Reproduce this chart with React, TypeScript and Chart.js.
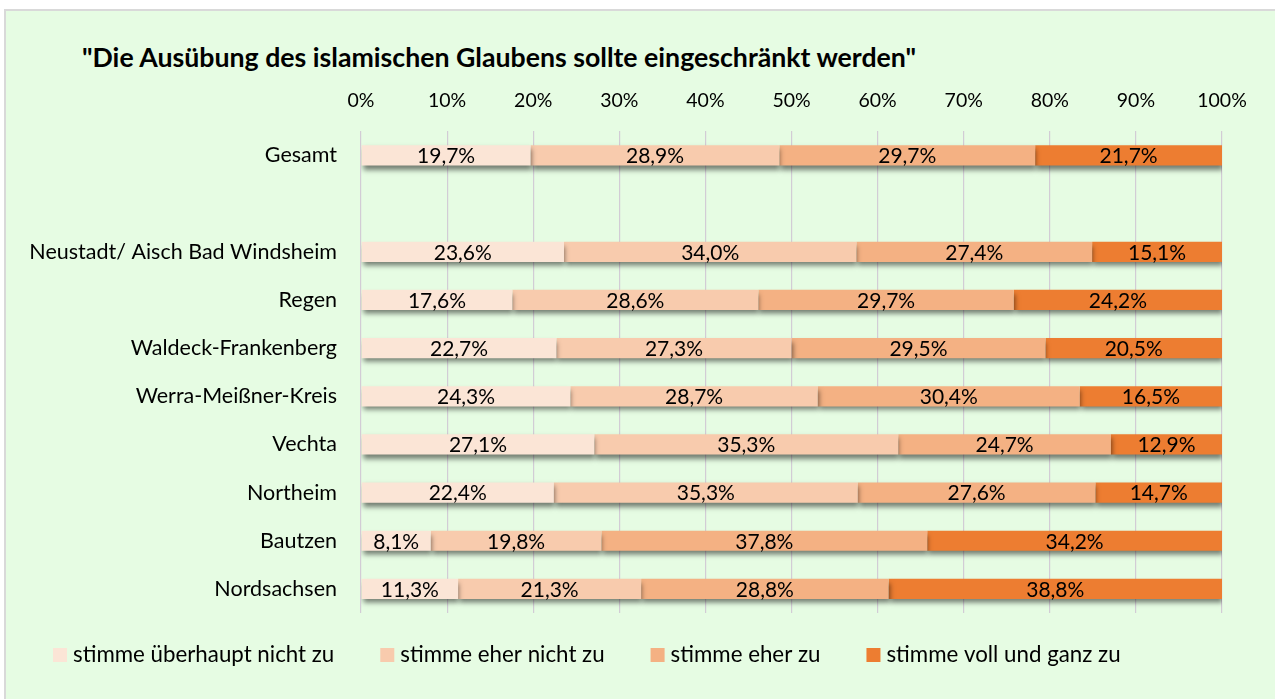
import React, { useEffect, useRef } from "react";
import { Chart, registerables } from "chart.js";

Chart.register(...registerables);

const TITLE = '"Die Ausübung des islamischen Glaubens sollte eingeschränkt werden"';

const categories = [
  "Gesamt",
  "",
  "Neustadt/ Aisch Bad Windsheim",
  "Regen",
  "Waldeck-Frankenberg",
  "Werra-Meißner-Kreis",
  "Vechta",
  "Northeim",
  "Bautzen",
  "Nordsachsen",
];

const seriesNames = [
  "stimme überhaupt nicht zu",
  "stimme eher nicht zu",
  "stimme eher zu",
  "stimme voll und ganz zu",
];

const seriesColors = ["#FBE5D6", "#F8CBAD", "#F4B183", "#ED7D31"];

const ueberhauptNicht = [19.7, null, 23.6, 17.6, 22.7, 24.3, 27.1, 22.4, 8.1, 11.3];
const eherNicht = [28.9, null, 34.0, 28.6, 27.3, 28.7, 35.3, 35.3, 19.8, 21.3];
const eherZu = [29.7, null, 27.4, 29.7, 29.5, 30.4, 24.7, 27.6, 37.8, 28.8];
const vollUndGanz = [21.7, null, 15.1, 24.2, 20.5, 16.5, 12.9, 14.7, 34.2, 38.8];

const xTicks = [0, 10, 20, 30, 40, 50, 60, 70, 80, 90, 100];

const FONT = "Lato";

const rawSeries = [ueberhauptNicht, eherNicht, eherZu, vollUndGanz];

const rowSums = categories.map((_, i) =>
  rawSeries.reduce((s, arr) => s + (arr[i] ?? 0), 0)
);

const fmt = (v: number) => v.toFixed(1).replace(".", ",") + "%";

const shadowPlugin = {
  id: "barShadow",
  beforeDatasetDraw(chart: any) {
    const ctx = chart.ctx;
    ctx.save();
    ctx.shadowColor = "rgba(0,0,0,0.5)";
    ctx.shadowBlur = 5;
    ctx.shadowOffsetX = 1;
    ctx.shadowOffsetY = 4;
  },
  afterDatasetDraw(chart: any) {
    chart.ctx.restore();
  },
};

const labelPlugin = {
  id: "segLabels",
  afterDatasetsDraw(chart: any) {
    const ctx = chart.ctx;
    ctx.save();
    ctx.font = `21px ${FONT}`;
    ctx.fillStyle = "#000000";
    ctx.textAlign = "center";
    ctx.textBaseline = "middle";
    chart.data.datasets.forEach((ds: any, di: number) => {
      const meta = chart.getDatasetMeta(di);
      meta.data.forEach((el: any, i: number) => {
        const raw = ds.rawValues[i];
        if (raw == null) return;
        const cx = (el.x + el.base) / 2;
        ctx.fillText(fmt(raw), cx, el.y + 1);
      });
    });
    ctx.restore();
  },
};

const legendPlugin = {
  id: "customLegend",
  afterDraw(chart: any) {
    const ctx = chart.ctx;
    ctx.save();
    ctx.font = `22.3px ${FONT}`;
    ctx.textBaseline = "middle";
    ctx.textAlign = "left";
    let x = 53;
    const y = 655;
    chart.data.datasets.forEach((ds: any) => {
      ctx.fillStyle = ds.backgroundColor;
      ctx.fillRect(x, y - 7, 14, 14);
      x += 20;
      ctx.fillStyle = "#000000";
      ctx.fillText(ds.label, x, y);
      x += ctx.measureText(ds.label).width + 46;
    });
    ctx.restore();
  },
};

export default function App() {
  const ref = useRef<HTMLCanvasElement>(null);

  useEffect(() => {
    document.body.style.margin = "0";
    const datasets = rawSeries.map((arr, si) => ({
      label: seriesNames[si],
      data: arr.map((v, i) => (v == null ? null : (v / rowSums[i]) * 100)),
      rawValues: arr,
      backgroundColor: seriesColors[si],
      borderWidth: 0,
      barPercentage: 0.42,
      categoryPercentage: 1,
    }));
    const chart = new Chart(ref.current!, {
      type: "bar",
      data: { labels: categories, datasets: datasets as any },
      options: {
        indexAxis: "y",
        animation: false,
        responsive: false,
        devicePixelRatio: 1,
        layout: { padding: { left: 10, right: 53, top: 71, bottom: 86 } },
        plugins: {
          legend: { display: false },
          tooltip: { enabled: false },
          title: { display: false },
        },
        scales: {
          x: {
            position: "top",
            stacked: true,
            min: 0,
            max: 100,
            afterBuildTicks: (scale: any) => {
              scale.ticks = xTicks.map((v) => ({ value: v }));
            },
            ticks: {
              callback: (v: any) => v + "%",
              font: { family: FONT, size: 19.5 },
              color: "#000000",
              padding: 18.5,
            },
            grid: { color: "#D2CCD5", lineWidth: 1.2, drawTicks: false },
            border: { display: false },
          },
          y: {
            stacked: true,
            afterFit: (scale: any) => {
              scale.width = 361 - 10;
            },
            ticks: {
              font: { family: FONT, size: 21.5 },
              color: "#000000",
              padding: 24,
            },
            grid: { display: false, drawTicks: false },
            border: { display: false },
          },
        },
      },
      plugins: [shadowPlugin, labelPlugin, legendPlugin],
    });
    return () => chart.destroy();
  }, []);

  return (
    <div style={{ position: "relative", width: 1275, height: 699, background: "#ffffff", overflow: "hidden" }}>
      <div
        style={{
          position: "absolute",
          left: 4,
          top: 9,
          right: 0,
          bottom: 0,
          background: "#E6FCE3",
          borderTop: "2px solid #D9D9D9",
          borderLeft: "2px solid #D9D9D9",
        }}
      />
      <div
        style={{
          position: "absolute",
          left: 82,
          top: 40,
          font: `bold 26.7px ${FONT}`,
          color: "#000000",
          whiteSpace: "nowrap",
          lineHeight: "34px",
        }}
      >
        {TITLE}
      </div>
      <canvas
        ref={ref}
        width={1275}
        height={699}
        style={{ position: "absolute", left: 0, top: 0, width: 1275, height: 699 }}
      />
    </div>
  );
}
